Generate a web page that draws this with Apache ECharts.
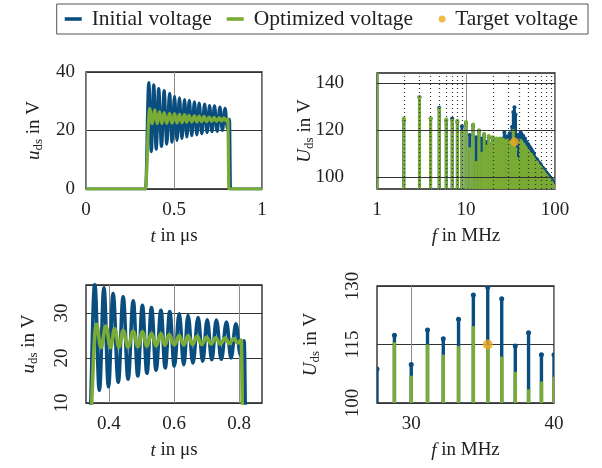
<!DOCTYPE html>
<html>
<head>
<meta charset="utf-8">
<script src="https://cdn.jsdelivr.net/npm/echarts@6/dist/echarts.min.js"></script>
<style>html,body{margin:0;padding:0;background:#fff}#main{width:602px;height:468px}</style>
</head>
<body>
<div id="main"></div>
<script>
// 时域波形（极值点读自原图）：初始电压
var tInit = [0, 0.338, 0.357, 0.371, 0.385, 0.399, 0.413, 0.429, 0.444, 0.459, 0.475, 0.489, 0.503, 0.517, 0.531, 0.545, 0.560, 0.573, 0.587, 0.601, 0.616, 0.630, 0.643, 0.658, 0.674, 0.688, 0.702, 0.716, 0.730, 0.745, 0.761, 0.775, 0.790, 0.804, 0.815, 0.821, 1];
var uInit = [0, 0, 36.4, 12.8, 35.6, 13.6, 34.3, 14.6, 33.6, 15.3, 32.7, 16.0, 31.7, 16.6, 31.2, 17.3, 30.6, 17.8, 30.3, 18.2, 29.8, 18.5, 29.4, 18.9, 29.0, 19.3, 28.5, 19.6, 28.4, 19.7, 28.0, 20.0, 27.6, 20.6, 23.8, 0, 0];
// 优化后电压
var tOpt = [0, 0.337, 0.362, 0.376, 0.391, 0.405, 0.418, 0.431, 0.444, 0.459, 0.475, 0.489, 0.503, 0.517, 0.531, 0.545, 0.560, 0.572, 0.585, 0.601, 0.616, 0.630, 0.643, 0.657, 0.671, 0.685, 0.700, 0.714, 0.728, 0.742, 0.757, 0.770, 0.783, 0.796, 0.806, 0.812, 1];
var uOpt = [0, 0, 27.5, 22.3, 27.1, 22.3, 26.5, 22.4, 26.1, 22.4, 25.9, 22.5, 25.8, 22.6, 25.5, 22.7, 25.4, 22.8, 25.2, 22.9, 25.0, 22.9, 24.9, 23.0, 24.8, 23.0, 24.6, 23.1, 24.5, 23.1, 24.4, 23.2, 24.3, 23.3, 24.0, 0, 0];

// 频谱：谐波频率 / MHz
var fHarm = [1,2,3,4,5,6,7,8,9,10,11,12,13,14,15,16,17,18,19,20,21,22,23,24,25,26,27,28,29,30,31,32,33,34,35,36,37,38,39,40,41,42,43,44,45,46,47,48,49,50,51,52,53,54,55,56,57,58,59,60,61,62,63,64,65,66,67,68,69,70,71,72,73,74,75,76,77,78,79,80,81,82,83,84,85,86,87,88,89,90,91,92,93,94,95,96,97,98,99,100];
var USpecInit = [144, 124, 134, 125, 129.5, 124, 125, 123.5, 121.7, 123,
    118, 122, 117, 119.5, 116.5, 118, 115, 117, 114, 116.5,
    114, 116, 114, 116, 114.5, 116.5, 119, 108.7, 117.4, 109.9,
    118.7, 116.5, 121.5, 127.7, 129.7, 126.7, 114.6, 118, 112.4, 112.4,
    119, 118.5, 114, 117.5, 113, 116.5, 112, 115, 110.5, 114,
    109.5, 113, 108.5, 112, 107.5, 111, 106.5, 110, 108.5, 105,
    108, 103.5, 107.5, 103, 106.5, 102.5, 106, 101.5, 105.5, 101,
    104.5, 100.5, 104, 100, 103.5, 103, 99, 102.5, 98.5, 102,
    98, 101.5, 97.5, 101, 97, 100.5, 96.5, 100, 96, 99.5,
    96, 99, 98.5, 95.5, 98, 95, 97.5, 95, 97, 97];
var USpecOpt = [144, 125, 134, 125, 129, 124.5, 124, 124, 119, 123.5,
    112, 122.4, 106, 120, 110, 118.5, 113, 117.5, 114, 117,
    114.5, 116.5, 115, 116.5, 115, 116, 115, 99, 115.6, 107,
    115, 112.4, 114.6, 119.7, 114.9, 111.9, 108, 103.5, 105.5, 106.7,
    115.5, 115, 110.5, 114, 109.5, 113, 108.5, 112, 107.5, 111,
    106.5, 110, 106, 109.5, 105, 108.5, 104, 107.5, 106.5, 103,
    106.5, 102, 106, 101.5, 105, 101, 104.5, 100, 104, 99.5,
    103, 99, 102.5, 98.5, 102, 101.5, 97.5, 101, 97, 100.5,
    96.5, 100, 96, 99.5, 95.5, 99, 95.5, 98.5, 95.5, 98,
    95.5, 97.5, 97, 95.5, 96.5, 95.5, 96, 95.5, 95.5, 95.5];
// 目标电压
var fTarget = [35];
var UTarget = [115];
// 右上图的刻度
var specTicks = [100, 120, 140];
// 对数坐标的次网格
var minorFreqs = [2,3,4,5,6,7,8,9,20,30,40,50,60,70,80,90];

var chartDom = document.getElementById('main');
var myChart = echarts.init(chartDom);

var colInit = '#0a4e7f';
var colOpt = '#79ab35';
var colTarget = '#efa822';
var fontFam = '"Liberation Serif", "DejaVu Serif", serif';
var txtCol = '#222';
var fs = 19;

function pairs(xs, ys, lo, hi){
    var out = [];
    for(var i=0;i<xs.length;i++){
        if(lo === undefined || (xs[i] >= lo && xs[i] <= hi)){
            out.push([xs[i], ys[i]]);
        }
    }
    return out;
}
// 竖线+圆点
function stemItem(base, color, lw, r){
    return function(params, api){
        var top = api.coord([api.value(0), api.value(1)]);
        var bot = api.coord([api.value(0), base]);
        return {
            type: 'group',
            children: [
                {type: 'line', shape: {x1: top[0], y1: bot[1], x2: top[0], y2: top[1]}, style: {stroke: color, lineWidth: lw}},
                {type: 'circle', shape: {cx: top[0], cy: top[1], r: r}, style: {fill: color}}
            ]
        };
    };
}

var nameStyle = {
    fontFamily: fontFam, fontSize: fs, color: txtCol,
    rich: {
        i: {fontFamily: fontFam, fontSize: fs, fontStyle: 'italic', color: txtCol},
        s: {fontFamily: fontFam, fontSize: 13, color: txtCol, padding: [9, 0, 0, 0]}
    }
};
var labelStyle = {fontFamily: fontFam, fontSize: fs, color: txtCol};
var xSplit = {show: true, lineStyle: {color: '#8c8c8c', width: 1}};
var ySplit = {show: true, lineStyle: {color: '#333', width: 1}};

function xAx(idx, extra){
    return Object.assign({
        gridIndex: idx,
        nameLocation: 'middle',
        nameGap: 38,
        nameTextStyle: nameStyle,
        axisLine: {show: false},
        axisTick: {show: false},
        axisLabel: Object.assign({margin: 12}, labelStyle),
        splitLine: xSplit
    }, extra);
}
function yAx(idx, extra){
    return Object.assign({
        gridIndex: idx,
        type: 'value',
        nameLocation: 'middle',
        nameRotate: 90,
        nameTextStyle: nameStyle,
        axisLine: {show: false},
        axisTick: {show: false},
        splitLine: ySplit
    }, extra);
}

var gridBase = {show: true, borderColor: '#1e1e1e', borderWidth: 1.3, backgroundColor: 'transparent'};
var lineIcon = 'path://M0,0 M0,3.2 L17,3.2 L17,6.8 L0,6.8 Z M22,10';
var dotIcon = 'path://M0,0 M22,10 M10.5,5 A3.5,3.5 0 1,0 17.5,5 A3.5,3.5 0 1,0 10.5,5 Z';

// 右上图的网格线：竖向点线 + 横向实线（带刻度文字）
var specGridLines = minorFreqs.map(function(f){
    return {xAxis: f};
}).concat(specTicks.map(function(v){
    return {
        yAxis: v,
        lineStyle: {type: 'solid', color: '#333', width: 1},
        label: Object.assign({show: true, position: 'start', distance: 33, formatter: String(v)}, labelStyle)
    };
}));

var option = {
    animation: false,
    legend: {
        top: 4,
        right: 14,
        padding: [4, 10, 4, 8],
        itemGap: 15,
        itemWidth: 22,
        itemHeight: 10,
        borderColor: '#555',
        borderWidth: 1,
        textStyle: {fontFamily: fontFam, fontSize: 21.5, color: txtCol},
        data: [
            {name: 'Initial voltage', icon: lineIcon},
            {name: 'Optimized voltage', icon: lineIcon},
            {name: 'Target voltage', icon: dotIcon}
        ]
    },
    grid: [
        Object.assign({left: 86, top: 72, width: 176, height: 117}, gridBase),
        Object.assign({left: 377, top: 73, width: 178, height: 116}, gridBase),
        Object.assign({left: 86, top: 285, width: 176, height: 118}, gridBase),
        Object.assign({left: 377, top: 286, width: 177, height: 117}, gridBase)
    ],
    xAxis: [
        xAx(0, {type: 'value', min: 0, max: 1, interval: 0.5, name: '{i|t} in μs'}),
        xAx(1, {type: 'log', logBase: 10, min: 1, max: 100, name: '{i|f} in MHz'}),
        xAx(2, {type: 'value', min: 0.33, max: 0.87, name: '{i|t} in μs',
            axisLabel: Object.assign({margin: 12, customValues: [0.4, 0.6, 0.8]}, labelStyle),
            axisTick: {show: false, customValues: [0.4, 0.6, 0.8]}}),
        xAx(3, {type: 'log', logBase: 10, min: 28, max: 40, name: '{i|f} in MHz',
            axisLabel: Object.assign({margin: 12, customValues: [30, 40]}, labelStyle),
            axisTick: {show: false, customValues: [30, 40]}})
    ],
    yAxis: [
        yAx(0, {min: 0, max: 40, interval: 20, name: '{i|u}{s|ds} in V', nameGap: 41,
            axisLabel: Object.assign({margin: 11}, labelStyle)}),
        yAx(1, {min: 95, max: 144.3, name: '{i|U}{s|ds} in V', nameGap: 61,
            splitLine: {show: false},
            axisLabel: {show: false}}),
        yAx(2, {min: 10, max: 36.2, interval: 10, name: '{i|u}{s|ds} in V', nameGap: 46,
            axisLabel: Object.assign({margin: 14, rotate: 90, showMaxLabel: false}, labelStyle)}),
        yAx(3, {min: 100, max: 130, name: '{i|U}{s|ds} in V', nameGap: 55,
            axisLabel: Object.assign({margin: 14, rotate: 90, customValues: [100, 115, 130]}, labelStyle),
            axisTick: {show: false, customValues: [100, 115, 130]}})
    ],
    series: [
        // 左上：时域
        {name: 'Initial voltage', type: 'line', xAxisIndex: 0, yAxisIndex: 0, data: pairs(tInit, uInit),
            showSymbol: false, smooth: 0.4, smoothMonotone: 'x', lineStyle: {color: colInit, width: 3.2}, itemStyle: {color: colInit}},
        {name: 'Optimized voltage', type: 'line', xAxisIndex: 0, yAxisIndex: 0, data: pairs(tOpt, uOpt),
            showSymbol: false, smooth: 0.4, smoothMonotone: 'x', lineStyle: {color: colOpt, width: 3.2}, itemStyle: {color: colOpt}},
        // 左下：时域放大
        {name: 'Initial voltage', type: 'line', xAxisIndex: 2, yAxisIndex: 2, data: pairs(tInit, uInit),
            showSymbol: false, smooth: 0.4, smoothMonotone: 'x', lineStyle: {color: colInit, width: 3.6}, itemStyle: {color: colInit}},
        {name: 'Optimized voltage', type: 'line', xAxisIndex: 2, yAxisIndex: 2, data: pairs(tOpt, uOpt),
            showSymbol: false, smooth: 0.4, smoothMonotone: 'x', lineStyle: {color: colOpt, width: 3.6}, itemStyle: {color: colOpt}},
        // 右上：网格线
        {name: 'grid lines', type: 'line', xAxisIndex: 1, yAxisIndex: 1, data: [], silent: true,
            markLine: {silent: true, symbol: 'none', label: {show: false},
                lineStyle: {color: '#333', width: 1.2, type: [1, 3]},
                data: specGridLines}},
        // 右上：频谱
        {name: 'Initial voltage', type: 'custom', xAxisIndex: 1, yAxisIndex: 1, clip: true,
            renderItem: stemItem(95, colInit, 3, 2), data: pairs(fHarm, USpecInit), itemStyle: {color: colInit}},
        {name: 'Optimized voltage', type: 'custom', xAxisIndex: 1, yAxisIndex: 1, clip: true,
            renderItem: stemItem(95, colOpt, 3, 2), data: pairs(fHarm, USpecOpt), itemStyle: {color: colOpt}},
        {name: 'Target voltage', type: 'scatter', xAxisIndex: 1, yAxisIndex: 1, data: pairs(fTarget, UTarget),
            symbolSize: 9, itemStyle: {color: colTarget}, z: 5},
        // 右下：频谱放大
        {name: 'Initial voltage', type: 'custom', xAxisIndex: 3, yAxisIndex: 3, clip: true,
            renderItem: stemItem(100, colInit, 3.4, 2.5), data: pairs(fHarm, USpecInit, 28, 40), itemStyle: {color: colInit}},
        {name: 'Optimized voltage', type: 'custom', xAxisIndex: 3, yAxisIndex: 3, clip: true,
            renderItem: stemItem(100, colOpt, 3.4, 0), data: pairs(fHarm, USpecOpt, 28, 40), itemStyle: {color: colOpt}},
        {name: 'Target voltage', type: 'scatter', xAxisIndex: 3, yAxisIndex: 3, data: pairs(fTarget, UTarget),
            symbolSize: 10, itemStyle: {color: colTarget}, z: 5}
    ]
};
myChart.setOption(option);
</script>
</body>
</html>
